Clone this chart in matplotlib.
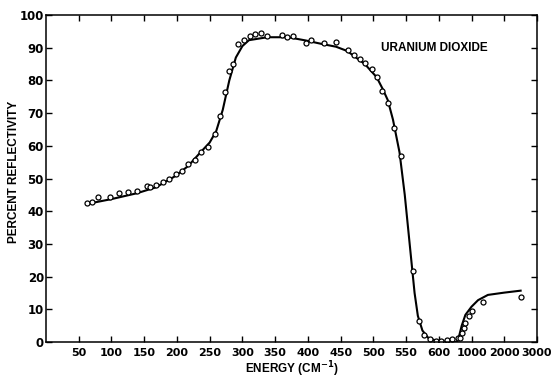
import numpy as np
import matplotlib
matplotlib.use("Agg")
import matplotlib.pyplot as plt
from matplotlib.ticker import FixedLocator

# measured points (energy in cm^-1, percent reflectivity)
pts_e = [62, 70, 80, 98, 111, 126, 139, 154, 159, 168, 179, 188, 198, 207, 217, 227, 236,
         248, 258, 266, 273, 280, 286, 294, 302, 311, 319, 329, 338, 361, 368, 377, 397, 405,
         424, 443, 461, 470, 479, 488, 498, 505, 514, 522, 532, 543, 560, 569, 577, 587, 595,
         624, 702, 760, 836, 864, 885, 904, 925, 966, 1026, 1340, 2500]
pts_r = [42.4, 42.7, 44.3, 44.4, 45.6, 46.0, 46.1, 47.7, 47.3, 48.0, 48.8, 50.0, 51.3, 52.4, 54.3, 55.6, 58.2,
         59.5, 63.5, 69.0, 76.5, 83.0, 85.0, 91.0, 92.5, 93.5, 94.1, 94.6, 93.6, 93.9, 93.4, 93.6, 91.5, 92.4,
         91.5, 91.6, 89.3, 87.8, 86.4, 85.2, 83.5, 80.9, 76.9, 73.0, 65.5, 57.0, 21.8, 6.4, 2.1, 0.8, 0.3,
         0.3, 0.6, 0.8, 1.1, 1.3, 2.7, 4.4, 5.9, 8.0, 9.5, 12.1, 13.7]

# fitted curve
line_e = [62, 100, 139, 168, 198, 217, 236, 250, 260, 270, 280, 290, 300, 310, 338, 370, 397,
          420, 443, 460, 487, 505, 514, 522, 530, 540, 548, 553, 558, 563, 568, 575, 585, 600,
          700, 820, 850, 880, 925, 1000, 1200, 1500, 2000, 2500]
line_r = [42.2, 43.7, 45.5, 47.3, 50.8, 53.8, 58.0, 61.0, 64.5, 71.0, 80.0, 87.0, 90.5, 92.3, 93.2, 93.2, 92.2,
          91.2, 90.3, 89.0, 85.0, 81.0, 77.5, 74.0, 68.0, 58.0, 45.0, 35.0, 25.0, 15.0, 8.0, 3.5, 1.0, 0.3,
          0.0, 0.0, 2.0, 5.0, 8.3, 10.8, 12.8, 14.4, 15.1, 15.7]

xticks = [50, 100, 150, 200, 250, 300, 350, 400, 450, 500, 550, 600, 1000, 2000, 3000]
yticks = [0, 10, 20, 30, 40, 50, 60, 70, 80, 90, 100]

# broken energy axis: linear to 600, then 1000/2000/3000 at one step each
bp_e = [0, 600, 1000, 2000, 3000]
bp_u = [0, 600, 650, 700, 750]

def fwd(x):
    return np.interp(x, bp_e, bp_u)

def inv(u):
    return np.interp(u, bp_u, bp_e)

lab_font = dict(family="Liberation Sans", fontsize=8.5, fontweight="bold")

fig = plt.figure(figsize=(5.57, 3.79), dpi=100)
ax = fig.add_axes([46 / 557, 37 / 379, 491 / 557, 327 / 379])
ax.set_xscale("function", functions=(fwd, inv))

ax.plot(line_e, line_r, color="black", lw=1.5)
ax.plot(pts_e, pts_r, "o", mfc="white", mec="black", ms=3.6, mew=0.9)

ax.set_xlim(0, 3000)
ax.set_ylim(0, 100)
ax.xaxis.set_major_locator(FixedLocator(xticks))
ax.xaxis.set_minor_locator(FixedLocator([]))
ax.yaxis.set_major_locator(FixedLocator(yticks))
ax.set_xticklabels([str(t) for t in xticks], fontsize=8, fontweight="bold")
ax.set_yticklabels([str(t) for t in yticks], fontsize=8.5, fontweight="bold")
ax.tick_params(direction="in", top=True, right=True, length=4, width=1)
ax.tick_params(axis="x", pad=4)
ax.tick_params(axis="y", pad=1.5)
for s in ax.spines.values():
    s.set_linewidth(1.1)

ax.set_xlabel("ENERGY (CM$^{\\mathbf{-1}}$)", labelpad=1, **lab_font)
ax.set_ylabel("PERCENT REFLECTIVITY", labelpad=2.5, **lab_font)
ax.yaxis.set_label_coords(-0.052, 0.52)
ax.text(512, 90, "URANIUM DIOXIDE", va="center", ha="left", **lab_font)

fig.savefig("out.png", dpi=100)
